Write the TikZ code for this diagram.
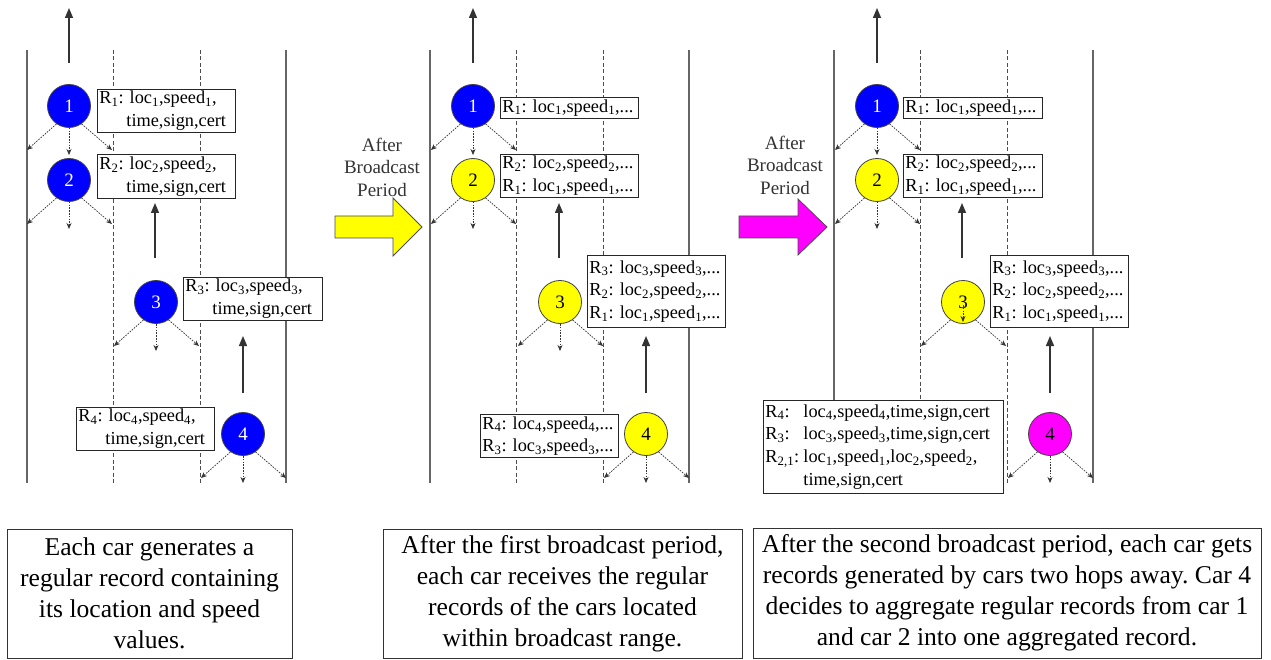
\documentclass[tikz,border=0pt]{standalone}
\usepackage{fontspec}
\setmainfont{Liberation Serif}
\usetikzlibrary{calc,arrows.meta}
\definecolor{cblue}{RGB}{0,0,255}
\definecolor{cyel}{RGB}{255,255,0}
\definecolor{cmag}{RGB}{255,0,255}
\frenchspacing
\tikzset{
  road/.style={draw=black!60, line width=1.3pt},
  lane/.style={draw=black!70, line width=0.9pt, dash pattern=on 4pt off 2.5pt},
  car/.style={circle, draw=black!75, line width=0.8pt, minimum size=43pt, inner sep=0pt, font=\fontsize{19}{20}\selectfont},
  bc/.style={draw=black!80, line width=0.7pt, dash pattern=on 1.6pt off 1.2pt, -{Stealth[length=6pt,width=5pt]}},
  mv/.style={draw=black!80, line width=1.4pt, -{Triangle[length=10pt,width=8pt]}},
  rec/.style={draw=black!85, fill=white, line width=0.9pt, anchor=north west, inner xsep=2pt, inner ysep=0pt, align=left, font=\fontsize{18.3}{22.7}\selectfont},
  note/.style={draw=black!80, line width=1pt, align=center, font=\fontsize{25.6}{31}\selectfont},
  period/.style={align=center, text=black!80, font=\fontsize{19}{22.5}\selectfont},
  big/.style={draw=black!70, line width=0.8pt}
}
\newcommand\roadset[1]{%
  \draw[road] ({27+#1},50) -- ({27+#1},483);
  \draw[lane] ({113+#1},50) -- ({113+#1},483);
  \draw[lane] ({200+#1},50) -- ({200+#1},483);
  \draw[road] ({286+#1},50) -- ({286+#1},483);
}
\newcommand\mycar[6]{%
  \node[car, fill=#4, text=#5] (#1) at (#2,#3) {#6};
  \coordinate (#1-l) at ($(#1)+(-42,44)$);
  \coordinate (#1-r) at ($(#1)+(43,44)$);
  \draw[bc] (#1.235) -- (#1-l);
  \draw[bc] (#1.305) -- (#1-r);
}
\newcommand\cardown[1]{%
  \coordinate (#1-d) at ($(#1)+(0,49)$);
  \draw[bc] (#1.south) -- (#1-d);
}
\newcommand\mover[4]{% name, x, ybottom, ytop
  \coordinate (#1-a) at (#2,#3);
  \coordinate (#1-b) at (#2,#4);
  \draw[mv] (#1-a) -- (#1-b);
}
\newcommand\sbs[1]{\textsubscript{#1}}
\begin{document}
\begin{tikzpicture}[x=1pt,y=-1pt]
\useasboundingbox (0,0) rectangle (1271,660);
\fill[white] (0,0) rectangle (1271,660);

% roads
\roadset{0}
\roadset{403}
\roadset{807}

% ---------- left panel
\node[rec, text width=134pt, minimum height=43pt] (L1) at (97,89) {R\sbs{1}: loc\sbs{1},speed\sbs{1},\\\hspace*{27pt}time,sign,cert};
\node[rec, text width=134pt, minimum height=44pt] (L2) at (97,154) {R\sbs{2}: loc\sbs{2},speed\sbs{2},\\\hspace*{27pt}time,sign,cert};
\node[rec, text width=135pt, minimum height=43pt] (L3) at (183,277) {R\sbs{3}: loc\sbs{3},speed\sbs{3},\\\hspace*{27pt}time,sign,cert};
\node[rec, text width=134pt, minimum height=43pt] (L4) at (76,407) {R\sbs{4}: loc\sbs{4},speed\sbs{4},\\\hspace*{27pt}time,sign,cert};

\mover{la}{69}{63}{8}
\mover{lb}{155}{258}{203}
\mover{lc}{243}{393}{336}

\mycar{l1}{69}{106}{cblue}{white}{1}\cardown{l1}
\mycar{l2}{69}{180}{cblue}{white}{2}\cardown{l2}
\mycar{l3}{156}{302}{cblue}{white}{3}\cardown{l3}
\mycar{l4}{243}{434}{cblue}{white}{4}\cardown{l4}

% ---------- middle panel
\node[rec, text width=134pt, minimum height=21pt] (M1) at (500,97) {R\sbs{1}: loc\sbs{1},speed\sbs{1},...};
\node[rec, text width=134pt, minimum height=43pt] (M2) at (500,154) {R\sbs{2}: loc\sbs{2},speed\sbs{2},...\\R\sbs{1}: loc\sbs{1},speed\sbs{1},...};
\node[rec, text width=134pt, minimum height=72pt] (M3) at (587,255) {R\sbs{3}: loc\sbs{3},speed\sbs{3},...\\R\sbs{2}: loc\sbs{2},speed\sbs{2},...\\R\sbs{1}: loc\sbs{1},speed\sbs{1},...};
\node[rec, text width=134pt, minimum height=43pt] (M4) at (480,414) {R\sbs{4}: loc\sbs{4},speed\sbs{4},...\\R\sbs{3}: loc\sbs{3},speed\sbs{3},...};

\mover{ma}{473}{63}{8}
\mover{mb}{559}{258}{203}
\mover{mc}{646}{393}{336}

\mycar{m1}{473}{106}{cblue}{white}{1}\cardown{m1}
\mycar{m2}{473}{180}{cyel}{black}{2}\cardown{m2}
\mycar{m3}{560}{302}{cyel}{black}{3}\cardown{m3}
\mycar{m4}{646}{434}{cyel}{black}{4}\cardown{m4}

% ---------- right panel
\node[rec, text width=135pt, minimum height=21pt] (R1) at (903,97) {R\sbs{1}: loc\sbs{1},speed\sbs{1},...};
\node[rec, text width=135pt, minimum height=43pt] (R2) at (903,154) {R\sbs{2}: loc\sbs{2},speed\sbs{2},...\\R\sbs{1}: loc\sbs{1},speed\sbs{1},...};
\node[rec, text width=134pt, minimum height=72pt] (R3) at (990,255) {R\sbs{3}: loc\sbs{3},speed\sbs{3},...\\R\sbs{2}: loc\sbs{2},speed\sbs{2},...\\R\sbs{1}: loc\sbs{1},speed\sbs{1},...};
\node[rec, text width=236pt, minimum height=93pt] (R4) at (763,400) {\makebox[38pt][l]{R\sbs{4}:}loc\sbs{4},speed\sbs{4},time,sign,cert\\\makebox[38pt][l]{R\sbs{3}:}loc\sbs{3},speed\sbs{3},time,sign,cert\\\makebox[38pt][l]{R\sbs{2,1}:}loc\sbs{1},speed\sbs{1},loc\sbs{2},speed\sbs{2},\\\hspace*{38pt}time,sign,cert};

\mover{ra}{877}{63}{8}
\mover{rb}{962}{258}{203}
\mover{rc}{1050}{393}{336}

\mycar{r1}{877}{106}{cblue}{white}{1}\cardown{r1}
\mycar{r2}{877}{180}{cyel}{black}{2}\cardown{r2}
\mycar{r3}{963}{302}{cyel}{black}{3}
\coordinate (r3-di) at ($(r3)+(0,3)$);
\coordinate (r3-d) at ($(r3)+(0,20)$);
\draw[bc] (r3-di) -- (r3-d);
\mycar{r4}{1050}{434}{cmag}{black}{4}\cardown{r4}

% ---------- block arrows and labels
\node[period] (p1) at (382,167) {After\\Broadcast\\Period};
\draw[big, fill=cyel] (335,216) -- (393,216) -- (393,198) -- (422,227) -- (393,256) -- (393,238) -- (335,238) -- cycle;
\node[period] (p2) at (785,165) {After\\Broadcast\\Period};
\draw[big, fill=cmag] (739,216) -- (798,216) -- (798,199) -- (827,227) -- (798,255) -- (798,238) -- (739,238) -- cycle;

% ---------- notes
\node[note, minimum width=285pt, minimum height=129pt] (n1) at (149.5,593.5) {Each car generates a\\regular record containing\\its location and speed\\values.};
\node[note, minimum width=359pt, minimum height=129pt] (n2) at (562.5,593.5) {After the first broadcast period,\\each car receives the regular\\records of the cars located\\within broadcast range.};
\node[note, minimum width=508pt, minimum height=130pt] (n3) at (1007,593) {After the second broadcast period, each car gets\\records generated by cars two hops away. Car 4\\decides to aggregate regular records from car 1\\and car 2 into one aggregated record.};
\end{tikzpicture}
\end{document}
